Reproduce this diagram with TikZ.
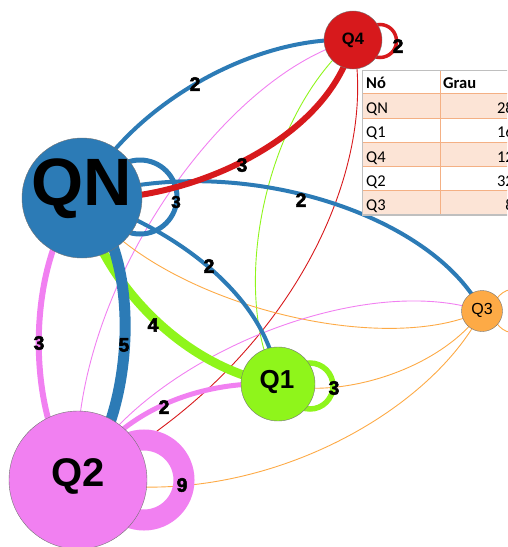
\documentclass[tikz,border=0pt]{standalone}
\usepackage{fontspec}
\setmainfont{Liberation Sans}
\newfontfamily\tabfont{Carlito}
\newfontfamily\heavyfont[UprightFont={* Bold}, FakeBold=2.5]{Liberation Sans}
\usetikzlibrary{backgrounds,calc}
\definecolor{cblue}{RGB}{44,123,182}
\definecolor{cred}{RGB}{215,25,28}
\definecolor{cgreen}{RGB}{143,245,27}
\definecolor{cpink}{RGB}{241,128,241}
\definecolor{corange}{RGB}{253,170,70}
\definecolor{peach}{RGB}{252,228,214}
\definecolor{tline}{RGB}{244,176,132}
\begin{document}
\begin{tikzpicture}[x=1pt,y=-1pt,
  vtx/.style={circle, draw=black!55, line width=0.4pt, inner sep=0pt},
  vlab/.style={inner sep=0pt, font=\bfseries},
  elab/.style={inner sep=0pt, font=\heavyfont\fontsize{19.5}{19.5}\selectfont},
  thinedge/.style={line width=0.9pt},
  tcell/.style={inner sep=0pt, anchor=base west, font=\tabfont\fontsize{16.5}{16.5}\selectfont},
  tnum/.style={inner sep=0pt, anchor=base east, font=\tabfont\fontsize{16.5}{16.5}\selectfont},
]
\useasboundingbox (0,0) rectangle (507,547);
\clip (0,0) rectangle (507,547);

% vertices
\node[vtx, fill=cblue, minimum size=120pt] (QN) at (82,198) {};
\node[vtx, fill=cred, minimum size=58pt] (Q4) at (353,40) {};
\node[vtx, fill=cgreen, minimum size=74pt] (Q1) at (278,384) {};
\node[vtx, fill=cpink, minimum size=138pt] (Q2) at (78,480) {};
\node[vtx, fill=corange, minimum size=41pt] (Q3) at (482,311) {};

\node[vlab, font=\fontsize{67}{67}\selectfont\bfseries] (tQN) at (82,189) {QN};
\node[vlab, font=\fontsize{16.5}{16.5}\selectfont\bfseries] (tQ4) at (353,40) {Q4};
\node[vlab, font=\fontsize{26}{26}\selectfont\bfseries] (tQ1) at (277,382) {Q1};
\node[vlab, font=\fontsize{40}{40}\selectfont\bfseries] (tQ2) at (78,476) {Q2};
\node[inner sep=0pt, font=\fontsize{16}{16}\selectfont] (tQ3) at (482,310) {Q3};

\begin{scope}[on background layer]
  % thin edges (weight 1)
  \draw[cpink, thinedge] (Q4.center) .. controls (220,75) and (65,300) .. (Q2.center);
  \draw[cgreen, thinedge] (Q4.center) .. controls (260,120) and (230,300) .. (Q1.center);
  \draw[cred, thinedge] (Q4.center) .. controls (380,170) and (290,370) .. (Q2.center);
  \draw[corange, thinedge] (QN.center) .. controls (150,300) and (380,360) .. (Q3.center);
  \draw[cpink, thinedge] (Q2.center) .. controls (140,360) and (360,270) .. (Q3.center);
  \draw[corange, thinedge] (Q1.center) .. controls (340,400) and (440,370) .. (Q3.center);
  \draw[corange, thinedge] (Q2.center) .. controls (250,515) and (430,415) .. (Q3.center);
  \draw[corange, thinedge] ($(Q3.center)+(33,0)$) circle[radius=22pt];
  % weighted edges
  \draw[cblue, line width=4pt] (QN.center) .. controls (125,110) and (250,35) .. (Q4.center);
  \draw[cblue, line width=4pt] (QN.center) .. controls (230,150) and (430,210) .. (Q3.center);
  \draw[cblue, line width=4pt] (QN.center) .. controls (180,230) and (270,300) .. (Q1.center);
  \draw[cgreen, line width=9pt] (QN.center) .. controls (105,290) and (190,370) .. (Q1.center);
  \draw[cblue, line width=11pt] (QN.center) .. controls (145,250) and (135,420) .. (Q2.center);
  \draw[cpink, line width=6pt] (QN.center) .. controls (25,260) and (25,420) .. (Q2.center);
  \draw[cpink, line width=5pt] (Q2.center) .. controls (120,410) and (200,380) .. (Q1.center);
  \draw[cblue, line width=5pt] ($(QN.center)+(58,-1)$) circle[radius=37pt];
  \draw[cred, line width=6pt] (QN.center) .. controls (180,205) and (330,142) .. (Q4.center);
  \draw[cgreen, line width=5.5pt] ($(Q1.center)+(32,2)$) circle[radius=23pt];
  \draw[cpink, line width=21pt] ($(Q2.center)+(66,0)$) circle[radius=40pt];
  \draw[cred, line width=3.5pt] ($(Q4.center)+(27,1)$) circle[radius=16.5pt];
\end{scope}

% edge labels
\node[elab] (l1) at (195,84) {2};
\node[elab] (l2) at (242,165) {3};
\node[elab, font=\heavyfont\fontsize{17}{17}\selectfont] (l3) at (176,202) {3};
\node[elab] (l4) at (301,200) {2};
\node[elab] (l5) at (209,266) {2};
\node[elab] (l6) at (153,325) {4};
\node[elab] (l7) at (124,345) {5};
\node[elab] (l8) at (39,343) {3};
\node[elab] (l9) at (164,407) {2};
\node[elab] (l10) at (334,388) {3};
\node[elab] (l11) at (182,485) {9};
\node[elab] (l12) at (398,46) {2};

% table
\fill[white] (362,70) rectangle (520,214);
\fill[peach] (362,93) rectangle (520,118);
\fill[peach] (362,142) rectangle (520,166);
\fill[peach] (362,190) rectangle (520,214);
\foreach \yy in {93,118,142,166,190} \draw[tline, line width=0.9pt] (362,\yy) -- (520,\yy);
\draw[tline, line width=0.9pt] (440,70) -- (440,214);
\draw[black!25, line width=0.8pt] (520,70) -- (362,70);
\draw[black!25, line width=1.6pt] (362.5,70) -- (362.5,215) -- (520,215);

\node[tcell, font=\tabfont\fontsize{16.5}{16.5}\selectfont\bfseries] (h1) at (366,88) {Nó};
\node[tcell, font=\tabfont\fontsize{16.5}{16.5}\selectfont\bfseries] (h2) at (443,88) {Grau};
\node[tcell] (r1) at (366,113) {QN};
\node[tcell] (r2) at (366,137.5) {Q1};
\node[tcell] (r3) at (366,162) {Q4};
\node[tcell] (r4) at (366,186) {Q2};
\node[tcell] (r5) at (366,210) {Q3};
\node[tnum] (v1) at (514,113) {28};
\node[tnum] (v2) at (514,137.5) {16};
\node[tnum] (v3) at (514,162) {12};
\node[tnum] (v4) at (514,186) {32};
\node[tnum] (v5) at (514,210) {8};
\end{tikzpicture}
\end{document}
